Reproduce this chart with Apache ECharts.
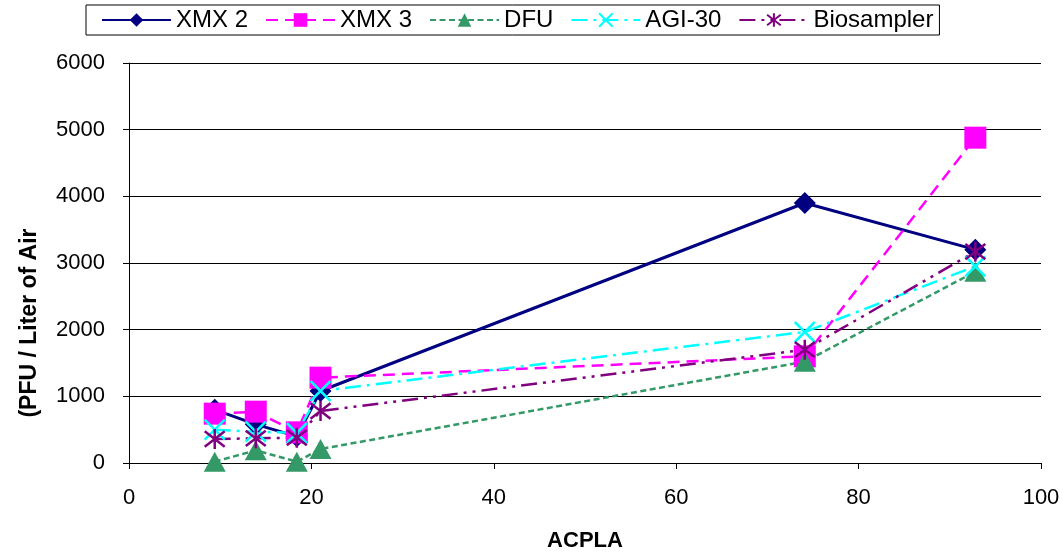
<!DOCTYPE html>
<html>
<head>
<meta charset="utf-8">
<script src="https://cdn.jsdelivr.net/npm/echarts@6/dist/echarts.min.js"></script>
<style>
html,body{margin:0;padding:0;background:#fff;}
#chart{width:1063px;height:558px;}
</style>
</head>
<body>
<div id="chart"></div>
<script>
// ---- Data ----
const seriesNames = ['XMX 2', 'XMX 3', 'DFU', 'AGI-30', 'Biosampler'];
const acpla = [9.4, 13.9, 18.4, 21.0, 74.1, 92.8];
const xmx2 = [800, 580, 400, 1080, 3900, 3200];
const xmx3 = [740, 770, 460, 1280, 1600, 4880];
const dfu = [20, 190, 20, 210, 1520, 2870];
const agi30 = [500, 470, 450, 1080, 1965, 2950];
const biosampler = [360, 370, 380, 780, 1700, 3170];
const xTicks = [0, 20, 40, 60, 80, 100];
const yTicks = [0, 1000, 2000, 3000, 4000, 5000, 6000];

function pairs(ys) { return acpla.map((x, i) => [x, ys[i]]); }

const X_PATH = 'path://M0,0L10,10M10,0L0,10';
const AST_PATH = 'path://M0,0L10,10M10,0L0,10M5,-1.5L5,11.5';

const chart = echarts.init(document.getElementById('chart'), null, {renderer: 'canvas'});

const option = {
  animation: false,
  backgroundColor: '#ffffff',
  textStyle: {fontFamily: 'Liberation Sans, Arial, sans-serif'},
  legend: {
    left: 86, top: 5,
    orient: 'horizontal',
    padding: [1, 6, 1, 15],
    borderColor: '#000', borderWidth: 1,
    itemWidth: 69, itemHeight: 17, itemGap: 17,
    textStyle: {fontSize: 24, color: '#000', lineHeight: 28, fontFamily: 'Liberation Sans, Arial, sans-serif'},
    data: seriesNames
  },
  grid: {left: 129, right: 22, top: 63, bottom: 95, containLabel: false},
  xAxis: {
    type: 'value', min: xTicks[0], max: xTicks[xTicks.length - 1], interval: 20,
    name: 'ACPLA', nameLocation: 'middle', nameGap: 67,
    nameTextStyle: {fontSize: 22, fontWeight: 'bold', color: '#000', fontFamily: 'Liberation Sans, Arial, sans-serif'},
    axisLine: {show: true, lineStyle: {color: '#000', width: 1}},
    axisTick: {show: true, inside: false, length: 6, lineStyle: {color: '#000'}},
    axisLabel: {fontSize: 22, color: '#000', margin: 24, fontFamily: 'Liberation Sans, Arial, sans-serif',
      formatter: function (v) { return String(v); }},
    splitLine: {show: false}
  },
  yAxis: {
    type: 'value', min: yTicks[0], max: yTicks[yTicks.length - 1], interval: 1000,
    name: '(PFU / Liter of Air', nameLocation: 'middle', nameGap: 88, nameRotate: 90,
    nameTextStyle: {fontSize: 23, fontWeight: 'bold', color: '#000', padding: [0, 120, 0, 0], fontFamily: 'Liberation Sans, Arial, sans-serif'},
    axisLine: {show: true, lineStyle: {color: '#000', width: 1}},
    axisTick: {show: true, inside: false, length: 6, lineStyle: {color: '#000'}},
    axisLabel: {fontSize: 22, color: '#000', margin: 24, fontFamily: 'Liberation Sans, Arial, sans-serif',
      formatter: function (v) { return String(v); }},
    splitLine: {show: true, lineStyle: {color: '#000', width: 1}}
  },
  series: [
    {
      name: seriesNames[0], type: 'line', data: pairs(xmx2),
      symbol: 'diamond', symbolSize: 22,
      lineStyle: {color: '#000080', width: 3, type: 'solid'},
      itemStyle: {color: '#000080', borderWidth: 0}
    },
    {
      name: seriesNames[1], type: 'line', data: pairs(xmx3),
      symbol: 'rect', symbolSize: 22,
      lineStyle: {color: '#FF00FF', width: 2.5, type: [12, 7]},
      itemStyle: {color: '#FF00FF', borderWidth: 0}
    },
    {
      name: seriesNames[2], type: 'line', data: pairs(dfu),
      symbol: 'triangle', symbolSize: [22, 20],
      lineStyle: {color: '#339966', width: 2.5, type: [6, 3.5]},
      itemStyle: {color: '#339966', borderWidth: 0}
    },
    {
      name: seriesNames[3], type: 'line', data: pairs(agi30),
      symbol: X_PATH, symbolSize: 20,
      lineStyle: {color: '#00FFFF', width: 2.5, type: [16, 6, 3, 6]},
      itemStyle: {color: 'rgba(0,0,0,0)', borderColor: '#00FFFF', borderWidth: 2.5}
    },
    {
      name: seriesNames[4], type: 'line', data: pairs(biosampler),
      symbol: AST_PATH, symbolSize: 20,
      lineStyle: {color: '#800080', width: 2.5, type: [16, 6, 3, 6, 3, 6]},
      itemStyle: {color: 'rgba(0,0,0,0)', borderColor: '#800080', borderWidth: 2.5}
    }
  ]
};
chart.setOption(option);
</script>
</body>
</html>
